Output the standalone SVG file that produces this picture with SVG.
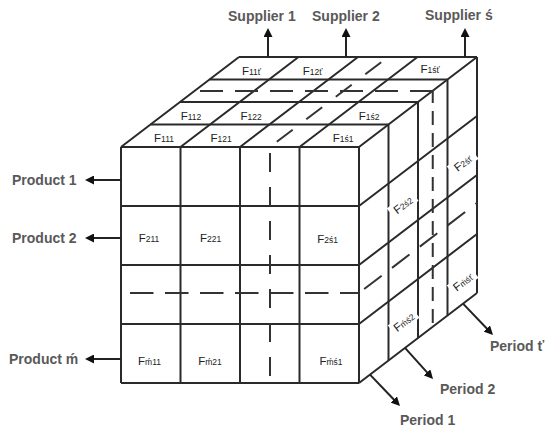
<svg xmlns="http://www.w3.org/2000/svg" width="548" height="428" viewBox="0 0 548 428">
<style>
.ln{stroke:#2a2a2a;stroke-width:2;fill:none;stroke-linecap:butt}
.dash{stroke:#333;stroke-width:2;fill:none;stroke-dasharray:23 12}
.ar{stroke:#222;stroke-width:2;fill:none;marker-end:url(#ah)}
.lab{font-family:"Liberation Sans",Arial,sans-serif;font-weight:bold;font-size:14px;fill:#595959}
.f{font-family:"Liberation Sans",Arial,sans-serif;font-size:11.5px;fill:#222;text-anchor:middle}
.s{font-size:8.5px}
.bg{fill:#fff}
</style>
<defs>
<marker id="ah" viewBox="0 0 10 10" refX="2" refY="5" markerWidth="9" markerHeight="9" markerUnits="userSpaceOnUse" orient="auto">
<path d="M0,0 L10,5 L0,10 z" fill="#111"/>
</marker>
</defs>
<rect width="548" height="428" fill="#fff"/>
<g id="cube">
<g id="front-face">
<path class="ln" d="M121,147 V383 M180.5,147 V383 M240,147 V383 M299.5,147 V383 M359,147 V383"/>
<path class="ln" d="M121,147 H359 M121,206 H359 M121,265 H359 M121,324 H359 M121,383 H359"/>
<line class="dash" x1="121" y1="293" x2="359" y2="293" style="stroke-dasharray:23.5 11.5;stroke-dashoffset:26"/>
<line class="dash" x1="270" y1="147" x2="270" y2="383" style="stroke-dasharray:19 15;stroke-dashoffset:28"/>
</g>
<g id="top-face">
<path class="ln" d="M121,147 L239,57 M180.5,147 L298.5,57 M240,147 L358,57 M299.5,147 L417.5,57 M359,147 L477,57"/>
<path class="ln" d="M150.5,124.5 H388.5 M180,102 H418 M209.5,79.5 H447.5 M239,57 H477"/>
<line class="dash" x1="194.75" y1="91" x2="432.75" y2="91" style="stroke-dasharray:23 12;stroke-dashoffset:29.75"/>
<line class="dash" x1="270" y1="147" x2="388" y2="57" style="stroke-dasharray:20 17.1;stroke-dashoffset:28.55"/>
</g>
<g id="right-face">
<path class="ln" d="M388.5,124.5 V360.5 M418,102 V338 M447.5,79.5 V315.5 M477,57 V293"/>
<path class="ln" d="M359,206 L477,116 M359,265 L477,175 M359,324 L477,234 M359,383 L477,293"/>
<line class="dash" x1="359" y1="293" x2="477" y2="203" style="stroke-dasharray:22 13;stroke-dashoffset:28.5"/>
<line class="dash" x1="432.75" y1="91" x2="432.75" y2="327" style="stroke-dasharray:14 8;stroke-dashoffset:2"/>
</g>
</g>
<g id="cells">
<g id="F111"><text class="f" x="164" y="142">F<tspan class="s">111</tspan></text></g>
<g id="F121"><text class="f" x="221" y="142">F<tspan class="s">121</tspan></text></g>
<g id="F1s1"><text class="f" x="343" y="142">F<tspan class="s">1ś1</tspan></text></g>
<g id="F112"><text class="f" x="191" y="120">F<tspan class="s">112</tspan></text></g>
<g id="F122"><text class="f" x="251" y="120">F<tspan class="s">122</tspan></text></g>
<g id="F1s2"><text class="f" x="369" y="120">F<tspan class="s">1ś2</tspan></text></g>
<g id="F11t"><text class="f" x="251.5" y="75">F<tspan class="s">11ť</tspan></text></g>
<g id="F12t"><text class="f" x="312.5" y="75">F<tspan class="s">12ť</tspan></text></g>
<g id="F1st"><text class="f" x="430" y="73">F<tspan class="s">1śť</tspan></text></g>
<g id="F211"><text class="f" x="149" y="242">F<tspan class="s">211</tspan></text></g>
<g id="F221"><text class="f" x="210.5" y="242">F<tspan class="s">221</tspan></text></g>
<g id="F2s1"><text class="f" x="327.5" y="243">F<tspan class="s">2ś1</tspan></text></g>
<g id="Fm11"><text class="f" x="149.5" y="365">F<tspan class="s">ḿ11</tspan></text></g>
<g id="Fm21"><text class="f" x="210" y="365">F<tspan class="s">ḿ21</tspan></text></g>
<g id="Fms1"><text class="f" x="331" y="365">F<tspan class="s">ḿś1</tspan></text></g>
<g id="F2s2" transform="rotate(-37.3 403 205)"><rect class="bg" x="388" y="198" width="30" height="13"/><text class="f" x="403" y="209">F<tspan class="s">2ś2</tspan></text></g>
<g id="F2st" transform="rotate(-37.3 463 163)"><rect class="bg" x="448" y="156" width="30" height="13"/><text class="f" x="463" y="167">F<tspan class="s">2śť</tspan></text></g>
<g id="Fms2" transform="rotate(-37.3 404 322)"><rect class="bg" x="389" y="315" width="30" height="13"/><text class="f" x="404" y="326">F<tspan class="s">ḿś2</tspan></text></g>
<g id="Fmst" transform="rotate(-37.3 463 282)"><rect class="bg" x="448" y="275" width="30" height="13"/><text class="f" x="463" y="286">F<tspan class="s">ḿśť</tspan></text></g>
</g>
<g id="connectors">
<line class="ar" x1="268" y1="57" x2="268" y2="35.2"/>
<line class="ar" x1="346" y1="57" x2="346" y2="35.2"/>
<line class="ar" x1="465" y1="57" x2="465" y2="35.2"/>
<line class="ar" x1="121" y1="180" x2="92.2" y2="180"/>
<line class="ar" x1="121" y1="238" x2="92.2" y2="238"/>
<line class="ar" x1="121" y1="359" x2="92.2" y2="359"/>
<line class="ar" x1="370" y1="374.6" x2="395" y2="400.8"/>
<line class="ar" x1="405" y1="347.9" x2="428.2" y2="373.7"/>
<line class="ar" x1="463" y1="303.6" x2="488" y2="329.8"/>
</g>
<g id="supplier-1"><text class="lab" x="228" y="21">Supplier 1</text></g>
<g id="supplier-2"><text class="lab" x="312" y="21">Supplier 2</text></g>
<g id="supplier-s"><text class="lab" x="425" y="20">Supplier ś</text></g>
<g id="product-1"><text class="lab" x="12" y="185">Product 1</text></g>
<g id="product-2"><text class="lab" x="12" y="243">Product 2</text></g>
<g id="product-m"><text class="lab" x="9" y="364">Product ḿ</text></g>
<g id="period-1"><text class="lab" x="400" y="425">Period 1</text></g>
<g id="period-2"><text class="lab" x="440" y="394">Period 2</text></g>
<g id="period-t"><text class="lab" x="490" y="351">Period ť</text></g>
</svg>
